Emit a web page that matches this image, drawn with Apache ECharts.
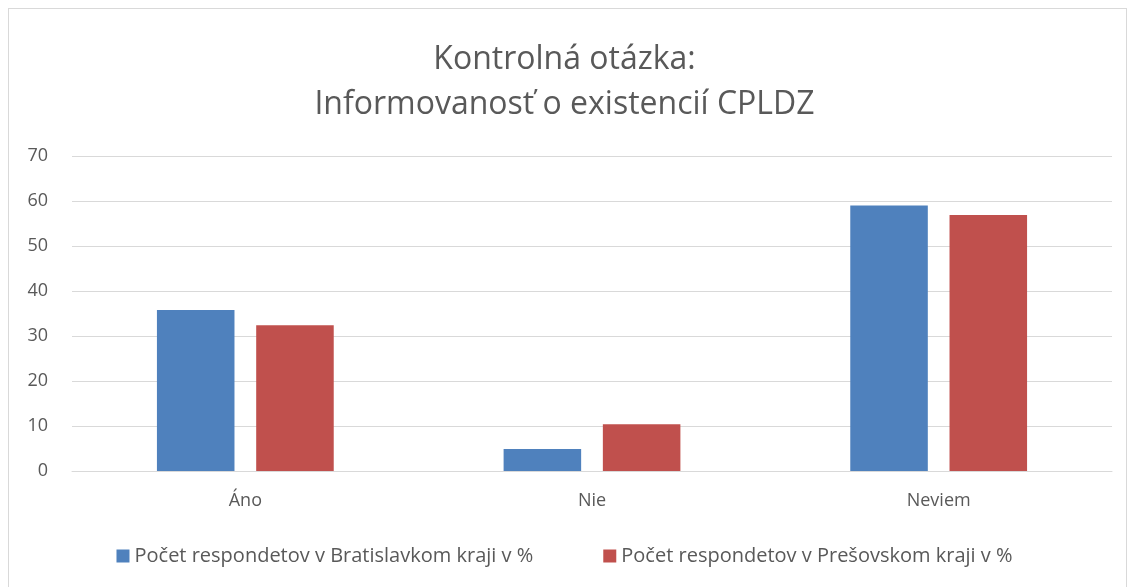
<!DOCTYPE html>
<html>
<head>
<meta charset="utf-8">
<script src="https://cdn.jsdelivr.net/npm/echarts@6/dist/echarts.min.js"></script>
<style>
  html, body { margin: 0; padding: 0; background: #fff; }
  #frame { position: absolute; left: 8px; top: 8px; width: 1119px; height: 585px; border: 1px solid #d9d9d9; box-sizing: border-box; }
  #chart { width: 1129px; height: 587px; }
</style>
</head>
<body>
<div id="frame"></div>
<div id="chart"></div>
<script>
// data
const categories = ["Áno", "Nie", "Neviem"];
const seriesNames = ["Počet respondetov v Bratislavkom kraji v %", "Počet respondetov v Prešovskom kraji v %"];
const bratislava = [35.8, 4.9, 59];
const presov = [32.4, 10.4, 56.9];

const myChart = echarts.init(document.getElementById("chart"));
const font = "'Open Sans', 'Noto Sans', sans-serif";
const textColor = "#595959";

const options = {
  animation: false,
  title: {
    text: "Kontrolná otázka:\nInformovanosť o existencií CPLDZ",
    left: "center",
    top: 32,
    textStyle: { fontFamily: font, fontSize: 32, fontWeight: "normal", color: textColor, lineHeight: 45 },
  },
  legend: {
    bottom: 16,
    left: "center",
    itemWidth: 13,
    itemHeight: 13,
    itemGap: 70,
    icon: "rect",
    textStyle: { fontFamily: font, fontSize: 20, color: textColor },
    data: seriesNames,
  },
  grid: { left: 72, right: 17, top: 156, bottom: 116, containLabel: false },
  xAxis: {
    type: "category",
    data: categories,
    axisLine: { lineStyle: { color: "#d9d9d9" } },
    axisTick: { show: false },
    axisLabel: { fontFamily: font, fontSize: 18, color: textColor, margin: 21 },
  },
  yAxis: {
    type: "value",
    min: 0,
    max: 70,
    interval: 10,
    axisLine: { show: false },
    axisTick: { show: false },
    axisLabel: { fontFamily: font, fontSize: 18, color: textColor, margin: 24 },
    splitLine: { lineStyle: { color: "#d9d9d9" } },
  },
  series: [
    {
      name: seriesNames[0],
      type: "bar",
      data: bratislava,
      barGap: "28%",
      barCategoryGap: "49%",
      itemStyle: { color: "#4f81bd" },
    },
    {
      name: seriesNames[1],
      type: "bar",
      data: presov,
      itemStyle: { color: "#c0504d" },
    },
  ],
};

myChart.setOption(options);
</script>
</body>
</html>
